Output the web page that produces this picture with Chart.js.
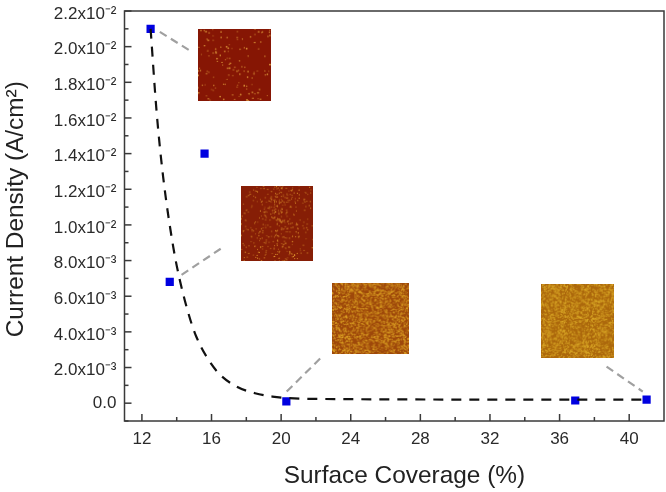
<!DOCTYPE html>
<html><head><meta charset="utf-8">
<style>html,body{margin:0;padding:0;background:#fff}canvas{display:block;filter:blur(0.4px)}</style>
<script src="https://cdn.jsdelivr.net/npm/chart.js@4"></script>
</head><body><canvas id="c" width="666" height="492"></canvas>
<script>
const coverage = [12.5, 15.6, 13.6, 20.3, 36.9, 41.0];
const currentDensity = [0.0210, 0.0140, 0.0068, 0.0001, 0.00015, 0.0002];
const fitX = [12.5, 12.84, 13.22, 13.8, 14.18, 14.76, 15.14, 15.72, 16.37, 17.44, 18.5, 19.5, 21.66, 36, 41];
const fitY = [0.0210, 0.0164, 0.0127, 0.00877, 0.0069, 0.00475, 0.0037, 0.0026, 0.00172, 0.00093, 0.00056, 0.00037, 0.00024, 0.00020, 0.00020];
const xMajor = [12, 16, 20, 24, 28, 32, 36, 40];
const xMinor = [14, 18, 22, 26, 30, 34, 38];
const yMajor = [0, 0.002, 0.004, 0.006, 0.008, 0.010, 0.012, 0.014, 0.016, 0.018, 0.020, 0.022];
const yMajorLabels = ['0.0','2.0x10⁻³','4.0x10⁻³','6.0x10⁻³','8.0x10⁻³','1.0x10⁻²','1.2x10⁻²','1.4x10⁻²','1.6x10⁻²','1.8x10⁻²','2.0x10⁻²','2.2x10⁻²'];
const yMinor = [-0.001, 0.001, 0.003, 0.005, 0.007, 0.009, 0.011, 0.013, 0.015, 0.017, 0.019, 0.021];
const leaderA = [[13.03, 0.02083], [14.87, 0.01971]];
const leaderB = [[14.28, 0.0072], [16.6, 0.00871]];
const leaderC = [[20.32, 0.00065], [22.34, 0.0026]];
const leaderD = [[38.7, 0.00205], [40.78, 0.00065]];
const insetBounds = [[15.22, 19.41, 0.0210, 0.01696], [17.69, 21.83, 0.01219, 0.00798], [22.92, 27.34, 0.00675, 0.00277], [34.93, 39.13, 0.00669, 0.00254]];

// Deterministic texture for the microscope-image insets (decoration, not data)
function hash(i, j, k) {
  const s = Math.sin(i * 127.1 + j * 311.7 + k * 74.7) * 43758.5453;
  return s - Math.floor(s);
}
function texture(kind) {
  const n = 76, t = document.createElement('canvas');
  t.width = t.height = n;
  const g = t.getContext('2d');
  const base = [[134, 22, 4], [134, 30, 6], [158, 72, 10], [172, 104, 12]][kind];
  const spot = [[240, 180, 70], [232, 160, 50], [220, 160, 36], [220, 170, 40]][kind];
  g.fillStyle = `rgb(${base})`;
  g.fillRect(0, 0, n, n);
  if (kind === 0) {
    for (let k = 0; k < 130; k++) {
      g.fillStyle = `rgba(${spot},${0.7 + hash(k, 1, 9) * 0.3})`;
      g.beginPath();
      g.arc(hash(k, 2, 3) * n, hash(k, 5, 7) * n, 0.5 + hash(k, 8, 2) * 0.4, 0, 7);
      g.fill();
    }
  } else if (kind === 1) {
    for (let k = 0; k < 800; k++) {
      const x = hash(k, 3, 1) * n, band = Math.exp(-Math.pow((x - 40) / 14, 2));
      if (hash(k, 4, 4) < 0.3 + 0.7 * band) {
        g.fillStyle = `rgba(${spot},${0.5 + hash(k, 6, 1) * 0.5})`;
        g.beginPath();
        g.arc(x, hash(k, 7, 5) * n, 0.6, 0, 7);
        g.fill();
      }
    }
  } else {
    for (let k = 0; k < 2200; k++) {
      g.fillStyle = `rgba(${spot},${0.4 + hash(k, kind, 1) * 0.5})`;
      g.beginPath();
      g.arc(hash(k, 3, kind) * n, hash(k, 9, kind) * n, 0.55 + hash(k, 2, kind) * 0.35, 0, 7);
      g.fill();
    }
  }
  const out = document.createElement('canvas');
  out.width = out.height = n;
  const o = out.getContext('2d');
  o.filter = 'blur(0.4px)';
  o.drawImage(t, 0, 0);
  return out;
}
const insetImages = [0, 1, 2, 3].map(texture);

const insets = {
  id: 'insets',
  beforeDatasetsDraw(chart) {
    const { ctx, scales: { x, y } } = chart;
    insetBounds.forEach((b, i) => {
      const l = x.getPixelForValue(b[0]), r = x.getPixelForValue(b[1]);
      const t = y.getPixelForValue(b[2]), u = y.getPixelForValue(b[3]);
      ctx.drawImage(insetImages[i], l, t, r - l, u - t);
    });
  }
};
const frame = {
  id: 'frame',
  afterDraw(chart) {
    const { ctx, chartArea: a, scales: { x, y } } = chart;
    ctx.save();
    ctx.strokeStyle = '#3a3a3a';
    ctx.lineWidth = 1.5;
    ctx.strokeRect(a.left, a.top, a.right - a.left, a.bottom - a.top);
    const tick = (vals, len, axis) => vals.forEach(v => {
      ctx.beginPath();
      if (axis === 'x') { const p = x.getPixelForValue(v); ctx.moveTo(p, a.bottom); ctx.lineTo(p, a.bottom - len); }
      else { const p = y.getPixelForValue(v); ctx.moveTo(a.left, p); ctx.lineTo(a.left + len, p); }
      ctx.stroke();
    });
    tick(xMajor, 7, 'x'); tick(xMinor, 4, 'x');
    tick(yMajor, 7, 'y'); tick(yMinor, 4, 'y');
    ctx.restore();
  }
};
const toPts = (xs, ys) => xs.map((v, i) => ({ x: v, y: ys[i] }));
const leader = d => ({
  type: 'line', data: d.map(p => ({ x: p[0], y: p[1] })), borderColor: '#a0a0a0', borderWidth: 2.2,
  borderDash: [8, 5], pointRadius: 0, order: 2
});
new Chart(document.getElementById('c'), {
  type: 'scatter',
  data: {
    datasets: [
      { type: 'line', label: 'Fit', data: toPts(fitX, fitY), borderColor: '#111', borderWidth: 2.2, borderDash: [10, 8],
        pointRadius: 0, cubicInterpolationMode: 'monotone', order: 0 },
      { label: 'Current density', data: toPts(coverage, currentDensity), backgroundColor: '#0000e0', borderColor: '#0000e0',
        pointStyle: 'rect', pointRadius: 5.8, borderWidth: 0, order: 1 },
      leader(leaderA), leader(leaderB), leader(leaderC), leader(leaderD)
    ]
  },
  options: {
    responsive: false, animation: false,
    layout: { autoPadding: false, padding: { top: 11, right: 2, left: 0, bottom: 0 } },
    plugins: { legend: { display: false }, tooltip: { enabled: false } },
    scales: {
      x: {
        type: 'linear', min: 11, max: 42,
        afterBuildTicks(s) { s.ticks = xMajor.map(v => ({ value: v })); },
        afterFit(s) { s.height = 71; s.paddingLeft = 0; s.paddingRight = 0; },
        grid: { display: false, drawTicks: false }, border: { display: false },
        ticks: { color: '#2a2a2a', font: { family: 'Liberation Sans', size: 17 }, padding: 8, maxRotation: 0, autoSkip: false, callback: v => String(v) },
        title: { display: true, text: '   Surface Coverage (%)', color: '#222', font: { family: 'Liberation Sans', size: 24.4 }, padding: { top: 0, bottom: 1 } }
      },
      y: {
        type: 'linear', min: -0.001, max: 0.022,
        afterBuildTicks(s) { s.ticks = yMajor.map(v => ({ value: v })); },
        afterFit(s) { s.width = 124.5; s.paddingTop = 0; s.paddingBottom = 0; },
        grid: { display: false, drawTicks: false }, border: { display: false },
        ticks: { color: '#2a2a2a', font: { family: 'Liberation Sans', size: 17, lineHeight: 0.35 }, padding: 8, autoSkip: false,
          callback: v => {
            const s = yMajorLabels[yMajor.findIndex(m => Math.abs(m - v) < 1e-9)];
            return v === 0 ? s : ['', s];
          } },
        title: { display: true, text: '  Current Density (A/cm²)', color: '#222', font: { family: 'Liberation Sans', size: 24.4 }, padding: { top: 2, bottom: 0 } }
      }
    }
  },
  plugins: [insets, frame]
});
</script></body></html>
